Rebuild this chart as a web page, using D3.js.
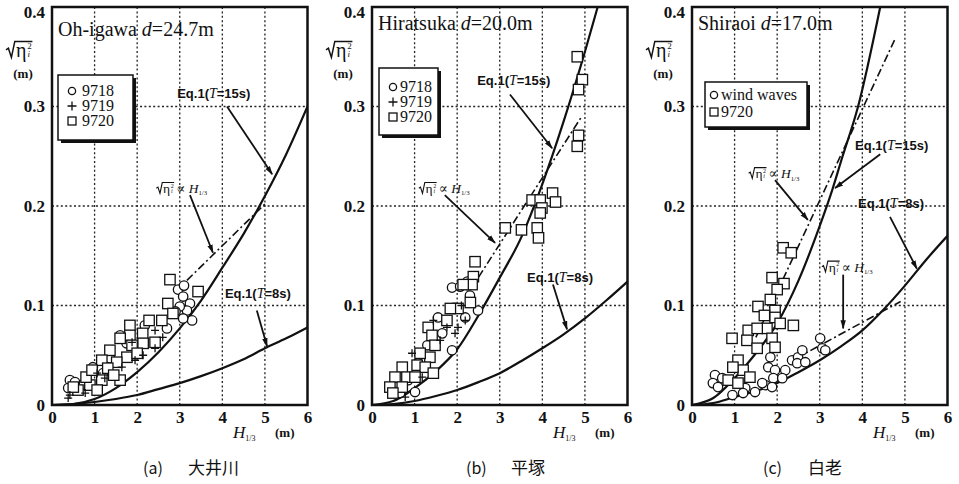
<!DOCTYPE html>
<html><head><meta charset="utf-8">
<script src="https://cdn.jsdelivr.net/npm/d3@7"></script>
<style>body{margin:0;background:#fff}</style>
</head><body>
<svg id="chart" width="959" height="484" xmlns="http://www.w3.org/2000/svg"></svg>
<script>
// ---------- data ----------
const xTicks = [0, 1, 2, 3, 4, 5, 6];
const yTicks = [0, 0.1, 0.2, 0.3, 0.4];
const siteNames = ["Oh-igawa", "Hiratsuka", "Shiraoi"];
const siteDepths = ["24.7m", "20.0m", "17.0m"];
const captionTags = ["(a)", "(b)", "(c)"];
const captionNames = ["大井川", "平塚", "白老"];

// Eq.1 curves: H1/3 (m) -> rms surf beat (m)
const eq15H_a = [0, 0.5, 1, 1.5, 2, 2.5, 3, 3.5, 4, 4.5, 5, 5.5, 6];
const eq15V_a = [0, 0.001, 0.006, 0.017, 0.033, 0.053, 0.077, 0.105, 0.138, 0.172, 0.21, 0.252, 0.30];
const eq8H_a  = [0, 0.5, 1, 1.5, 2, 2.5, 3, 3.5, 4, 4.5, 5, 5.5, 6];
const eq8V_a  = [0, 0.001, 0.003, 0.006, 0.010, 0.016, 0.022, 0.029, 0.037, 0.046, 0.057, 0.067, 0.078];
const fitH_a  = [2.9, 5.0];
const fitV_a  = [0.114, 0.202];

const eq15H_b = [0, 0.5, 1, 1.5, 2, 2.5, 3, 3.5, 4, 4.5, 5, 5.3];
const eq15V_b = [0, 0.004, 0.017, 0.034, 0.056, 0.09, 0.128, 0.168, 0.222, 0.285, 0.355, 0.40];
const eq8H_b  = [0, 0.5, 1, 1.5, 2, 2.5, 3, 3.5, 4, 4.5, 5, 5.5, 6];
const eq8V_b  = [0, 0.001, 0.004, 0.009, 0.015, 0.023, 0.032, 0.044, 0.057, 0.071, 0.087, 0.105, 0.124];
const fitH_b  = [2.3, 4.94];
const fitV_b  = [0.115, 0.291];

const eq15H_c = [0, 0.5, 1, 1.5, 2, 2.5, 3, 3.3, 3.5, 3.9, 4.42];
const eq15V_c = [0, 0.007, 0.027, 0.052, 0.082, 0.125, 0.18, 0.217, 0.245, 0.30, 0.40];
const eq8H_c  = [0, 0.5, 1, 1.5, 2, 2.5, 3, 3.5, 4, 4.5, 5, 5.5, 6];
const eq8V_c  = [0, 0.002, 0.008, 0.014, 0.022, 0.033, 0.045, 0.059, 0.075, 0.096, 0.12, 0.146, 0.17];
const fitH_c  = [1.5, 4.78];
const fitV_c  = [0.068, 0.369];
const fit2H_c = [2.45, 4.9];
const fit2V_c = [0.047, 0.104];

// field records [H1/3, value]
const a9718 = [[2.96,0.116],[3.08,0.109],[3.24,0.102],[3.17,0.095],[3.29,0.085],[3.0,0.099],[3.08,0.087],[2.70,0.077],[1.60,0.070],[1.36,0.047],[0.96,0.038],[0.42,0.025],[0.38,0.017],[0.70,0.020],[1.20,0.032],[0.54,0.023],[2.18,0.080],[3.1,0.12],[2.9,0.094],[1.75,0.062]];
const a9719 = [[2.42,0.075],[2.14,0.050],[2.42,0.057],[1.88,0.063],[0.42,0.010],[0.38,0.007],[1.24,0.027],[1.64,0.038],[1.06,0.032],[0.78,0.012],[1.95,0.045],[2.6,0.068]];
const a9720 = [[2.77,0.126],[3.43,0.114],[2.72,0.102],[2.84,0.092],[2.58,0.085],[2.28,0.085],[1.83,0.080],[1.83,0.070],[2.13,0.072],[2.42,0.063],[1.60,0.067],[1.88,0.060],[2.14,0.062],[1.36,0.055],[1.76,0.048],[1.52,0.043],[1.17,0.045],[1.31,0.037],[1.17,0.025],[0.89,0.020],[0.80,0.028],[0.61,0.015],[1.06,0.015],[1.60,0.025],[0.94,0.035],[2.0,0.052],[0.5,0.018],[1.45,0.030]];

const b9718 = [[1.88,0.118],[2.07,0.119],[2.24,0.124],[2.49,0.095],[2.19,0.088],[1.88,0.055],[1.65,0.072],[1.08,0.042],[0.85,0.025],[0.66,0.012],[1.01,0.013],[0.54,0.022],[1.55,0.088],[1.3,0.06],[2.3,0.11]];
const b9719 = [[2.02,0.078],[1.76,0.078],[2.19,0.085],[1.95,0.072],[0.94,0.052],[1.18,0.028],[0.78,0.008],[1.44,0.085],[1.6,0.065],[2.1,0.1]];
const b9720 = [[2.42,0.144],[2.38,0.129],[2.35,0.121],[2.14,0.121],[2.31,0.103],[2.02,0.097],[1.84,0.097],[1.32,0.078],[1.41,0.070],[1.48,0.060],[1.36,0.048],[1.13,0.052],[1.06,0.040],[1.25,0.038],[1.44,0.032],[0.71,0.038],[0.54,0.028],[0.82,0.028],[1.01,0.028],[0.42,0.018],[0.71,0.018],[0.49,0.012],[1.76,0.085],
  [4.82,0.35],[4.94,0.327],[4.85,0.317],[4.85,0.271],[4.82,0.26],[4.24,0.213],[4.31,0.204],[3.76,0.206],[3.95,0.206],[3.99,0.198],[3.95,0.193],[3.88,0.178],[3.91,0.168],[3.13,0.178],[3.51,0.176]];

const cWind = [[0.54,0.030],[0.49,0.022],[0.71,0.027],[0.61,0.018],[1.25,0.017],[1.2,0.012],[1.84,0.048],[1.79,0.038],[1.95,0.035],[1.91,0.027],[1.72,0.020],[1.88,0.018],[2.19,0.035],[2.35,0.045],[2.49,0.048],[2.59,0.055],[2.47,0.042],[2.66,0.043],[3.01,0.067],[3.06,0.057],[3.13,0.055],[2.12,0.027],[1.48,0.013],[1.65,0.022],[0.95,0.01]];
const c9720 = [[2.14,0.158],[2.33,0.153],[1.88,0.128],[2.16,0.122],[2.0,0.116],[1.84,0.106],[1.55,0.099],[1.95,0.095],[1.95,0.088],[2.07,0.082],[2.38,0.080],[1.76,0.077],[1.32,0.075],[1.53,0.077],[0.94,0.067],[1.29,0.065],[1.88,0.067],[1.53,0.057],[1.95,0.058],[1.08,0.045],[1.2,0.035],[0.96,0.038],[1.36,0.028],[0.85,0.025],[1.08,0.022],[1.7,0.09]];

// ---------- layout ----------
const svg = d3.select("#chart");
const plotTop = 7, plotBottom = 405, plotW = 255.5;
const serif = "'Liberation Serif', 'Times New Roman', 'DejaVu Serif', serif";
const sans = "'Liberation Sans Narrow', 'Liberation Sans', Arial, sans-serif";
const ink = "#111";

const defs = svg.append("defs");
defs.append("marker").attr("id", "tip").attr("viewBox", "0 0 10 10")
  .attr("refX", 9).attr("refY", 5).attr("markerWidth", 5).attr("markerHeight", 5)
  .attr("orient", "auto")
  .append("path").attr("d", "M0,2 L10,5 L0,8 Z").attr("fill", ink);

const zip = (hs, vs) => hs.map((h, i) => [h, vs[i]]);

const panels = [
  { left: 52, circles: a9718, plus: a9719, squares: a9720,
    curves: [zip(eq15H_a, eq15V_a), zip(eq8H_a, eq8V_a)], fits: [zip(fitH_a, fitV_a)],
    legend: { x: 58, y: 75, w: 75, h: 65, items: [["circle","9718"],["plus","9719"],["square","9720"]], symX: 14, txtX: 24, row0: 16, rowH: 15 },
    eqs: [ { t: "15s", at: [2.94, 0.309], from: [4.11, 0.300], to: [5.17, 0.232] },
           { t: "8s",  at: [4.06, 0.108], from: [4.81, 0.095], to: [5.05, 0.059] } ],
    fitLabels: [ { at: [2.45, 0.213], from: [3.24, 0.211], to: [3.78, 0.153] } ],
    titleY: 36 },
  { left: 372, circles: b9718, plus: b9719, squares: b9720,
    curves: [zip(eq15H_b, eq15V_b), zip(eq8H_b, eq8V_b)], fits: [zip(fitH_b, fitV_b)],
    legend: { x: 379, y: 68, w: 59, h: 67, items: [["circle","9718"],["plus","9719"],["square","9720"]], symX: 14, txtX: 21, row0: 19, rowH: 15 },
    eqs: [ { t: "15s", at: [2.47, 0.322], from: [3.24, 0.312], to: [4.23, 0.258] },
           { t: "8s",  at: [3.64, 0.124], from: [4.25, 0.121], to: [4.58, 0.076] } ],
    fitLabels: [ { at: [1.10, 0.213], from: [1.71, 0.211], to: [2.89, 0.163] } ],
    titleY: 30 },
  { left: 692, circles: cWind, plus: [], squares: c9720,
    curves: [zip(eq15H_c, eq15V_c), zip(eq8H_c, eq8V_c)], fits: [zip(fitH_c, fitV_c), zip(fit2H_c, fit2V_c)],
    legend: { x: 705, y: 82, w: 102, h: 45, items: [["circle","wind waves"],["square","9720"]], symX: 9, txtX: 16, row0: 13, rowH: 17 },
    eqs: [ { t: "15s", at: [3.83, 0.256], from: [4.42, 0.252], to: [3.36, 0.218] },
           { t: "8s",  at: [3.90, 0.198], from: [4.65, 0.189], to: [5.28, 0.137] } ],
    fitLabels: [ { at: [1.33, 0.228], from: [1.95, 0.226], to: [2.72, 0.186] },
                 { at: [3.05, 0.134], from: [3.55, 0.131], to: [3.55, 0.077] } ],
    titleY: 30 }
];

function txt(g, x, y, size, family) {
  return g.append("text").attr("x", x).attr("y", y)
    .style("font-family", family).style("font-size", size + "px").attr("fill", ink);
}

// radical sign with eta, drawn as path + text; returns right end x
function rmsLabel(g, x, y, s) {
  const etaX = x + 0.5 * s;
  const endX = x + 1.32 * s;
  g.append("path")
    .attr("d", `M${x},${y - 0.36 * s} L${x + 0.12 * s},${y - 0.44 * s} L${x + 0.27 * s},${y + 0.02 * s} L${x + 0.44 * s},${y - 0.78 * s} L${endX},${y - 0.78 * s}`)
    .attr("fill", "none").attr("stroke", ink).attr("stroke-width", Math.max(1.1, s * 0.075));
  txt(g, etaX, y, s, serif).text("η");
  txt(g, etaX + 0.56 * s, y - 0.4 * s, 0.45 * s, serif).text("2");
  txt(g, etaX + 0.58 * s, y + 0.02 * s, 0.45 * s, serif).style("font-style", "italic").text("i");
  return endX;
}

// "sqrt(eta^2) ∝ H1/3" annotation
function propLabel(g, x, y, s) {
  const e = rmsLabel(g, x, y, s);
  const t = txt(g, e + 2, y, s, serif);
  t.append("tspan").text("∝ ");
  t.append("tspan").style("font-style", "italic").text("H");
  t.append("tspan").style("font-size", (s * 0.5) + "px").attr("dy", s * 0.18).text("1/3");
}

function eqLabel(g, x, y, per) {
  const t = txt(g, x, y, 13, sans).style("font-weight", "bold");
  t.append("tspan").text("Eq.1(");
  t.append("tspan").style("font-family", serif).style("font-style", "italic")
    .style("font-weight", "normal").style("font-size", "14px").text("T");
  t.append("tspan").text("=" + per + ")");
}

panels.forEach((p, i) => {
  const x = d3.scaleLinear().domain([0, 6]).range([p.left, p.left + plotW]);
  const y = d3.scaleLinear().domain([0, 0.4]).range([plotBottom, plotTop]);
  const g = svg.append("g");

  // dotted grid
  g.append("g").selectAll("line").data(xTicks.slice(1, -1)).join("line")
    .attr("x1", d => x(d)).attr("x2", d => x(d)).attr("y1", plotTop).attr("y2", plotBottom)
    .attr("stroke", "#222").attr("stroke-width", 1.3).attr("stroke-dasharray", "2,2.4");
  g.append("g").selectAll("line").data(yTicks.slice(1, -1)).join("line")
    .attr("x1", p.left).attr("x2", p.left + plotW).attr("y1", d => y(d)).attr("y2", d => y(d))
    .attr("stroke", "#222").attr("stroke-width", 1.3).attr("stroke-dasharray", "2,2.4");

  // axes tick labels
  const xa = g.append("g").attr("transform", `translate(0,${plotBottom})`)
    .call(d3.axisBottom(x).tickValues(xTicks).tickSize(0).tickPadding(6).tickFormat(d3.format("d")));
  const ya = g.append("g").attr("transform", `translate(${p.left},0)`)
    .call(d3.axisLeft(y).tickValues(yTicks).tickSize(0).tickPadding(7)
      .tickFormat(d => d === 0 ? "0" : d3.format(".1f")(d)));
  [xa, ya].forEach(a => {
    a.select(".domain").remove();
    a.attr("font-family", null).attr("font-size", null);
    a.selectAll("text").style("font-family", serif).style("font-size", "17px")
      .style("font-weight", "bold").attr("fill", ink);
  });
  // top label sits just inside the frame edge
  ya.selectAll(".tick").filter(d => d === 0.4).select("text").attr("dy", "0.62em");

  // curves
  const line = d3.line().x(d => x(d[0])).y(d => y(d[1])).curve(d3.curveMonotoneX);
  const clipId = "clip" + i;
  defs.append("clipPath").attr("id", clipId).append("rect")
    .attr("x", p.left).attr("y", plotTop).attr("width", plotW).attr("height", plotBottom - plotTop);
  const cg = g.append("g").attr("clip-path", `url(#${clipId})`);
  p.curves.forEach(c => cg.append("path").attr("d", line(c)).attr("fill", "none")
    .attr("stroke", ink).attr("stroke-width", 2.2));
  p.fits.forEach(c => cg.append("path").attr("d", d3.line().x(d => x(d[0])).y(d => y(d[1]))(c))
    .attr("fill", "none").attr("stroke", ink).attr("stroke-width", 1.6)
    .attr("stroke-dasharray", "8,3,2,3"));

  // markers
  const mk = g.append("g").attr("fill", "#fff").attr("stroke", ink).attr("stroke-width", 1.3);
  mk.selectAll("circle").data(p.circles).join("circle")
    .attr("cx", d => x(d[0])).attr("cy", d => y(d[1])).attr("r", 4.7);
  mk.selectAll("rect").data(p.squares).join("rect")
    .attr("x", d => x(d[0]) - 5.2).attr("y", d => y(d[1]) - 5.2).attr("width", 10.4).attr("height", 10.4);
  mk.selectAll("path.plus").data(p.plus).join("path").attr("class", "plus")
    .attr("d", d => `M${x(d[0]) - 4},${y(d[1])} h8 M${x(d[0])},${y(d[1]) - 4} v8`);

  // frame
  g.append("rect").attr("x", p.left).attr("y", plotTop).attr("width", plotW)
    .attr("height", plotBottom - plotTop).attr("fill", "none").attr("stroke", ink).attr("stroke-width", 2.5);

  // leaders and labels
  p.eqs.forEach(e => {
    eqLabel(g, x(e.at[0]), y(e.at[1]), e.t);
    g.append("line").attr("x1", x(e.from[0])).attr("y1", y(e.from[1]))
      .attr("x2", x(e.to[0])).attr("y2", y(e.to[1]))
      .attr("stroke", ink).attr("stroke-width", 1.8).attr("marker-end", "url(#tip)");
  });
  p.fitLabels.forEach(f => {
    propLabel(g, x(f.at[0]), y(f.at[1]), 13.5);
    g.append("line").attr("x1", x(f.from[0])).attr("y1", y(f.from[1]))
      .attr("x2", x(f.to[0])).attr("y2", y(f.to[1]))
      .attr("stroke", ink).attr("stroke-width", 1.8).attr("marker-end", "url(#tip)");
  });

  // title
  const tt = txt(g, p.left + 6, p.titleY, 20, serif);
  tt.append("tspan").text(siteNames[i] + " ");
  tt.append("tspan").style("font-style", "italic").text("d");
  tt.append("tspan").text("=" + siteDepths[i]);

  // legend with drop shadow
  const L = p.legend;
  g.append("rect").attr("x", L.x + 3).attr("y", L.y + 3).attr("width", L.w).attr("height", L.h).attr("fill", ink);
  g.append("rect").attr("x", L.x).attr("y", L.y).attr("width", L.w).attr("height", L.h)
    .attr("fill", "#fff").attr("stroke", ink).attr("stroke-width", 1.5);
  L.items.forEach((it, k) => {
    const cx = L.x + L.symX, cy = L.y + L.row0 + k * L.rowH;
    const s = g.append("g").attr("fill", "none").attr("stroke", ink).attr("stroke-width", 1.3);
    if (it[0] === "circle") s.append("circle").attr("cx", cx).attr("cy", cy).attr("r", 3.6);
    if (it[0] === "square") s.append("rect").attr("x", cx - 4).attr("y", cy - 4).attr("width", 8).attr("height", 8);
    if (it[0] === "plus") s.append("path").attr("d", `M${cx - 4.5},${cy} h9 M${cx},${cy - 4.5} v9`);
    txt(g, L.x + L.txtX, cy + 5, 16, serif).text(it[1]);
  });

  // y-axis title
  rmsLabel(g, p.left - 46, 57, 20);
  txt(g, p.left - 29, 78, 13, serif).attr("text-anchor", "middle").style("font-weight", "bold").text("(m)");

  // x-axis title
  const xt = txt(g, p.left + 181, 438, 17, serif);
  xt.append("tspan").style("font-style", "italic").text("H");
  xt.append("tspan").style("font-size", "8px").attr("dy", 3).text("1/3");
  txt(g, p.left + 223, 437, 13, serif).style("font-weight", "bold").text("(m)");

  // caption
  const capX = [143, 466, 763][i];
  txt(g, capX, 474, 16, "'Noto Sans CJK JP', 'Noto Sans', sans-serif").text(captionTags[i]);
  txt(g, capX + 45, 474, 17, "'Noto Sans CJK JP', sans-serif").text(captionNames[i]);
});
</script>
</body></html>
